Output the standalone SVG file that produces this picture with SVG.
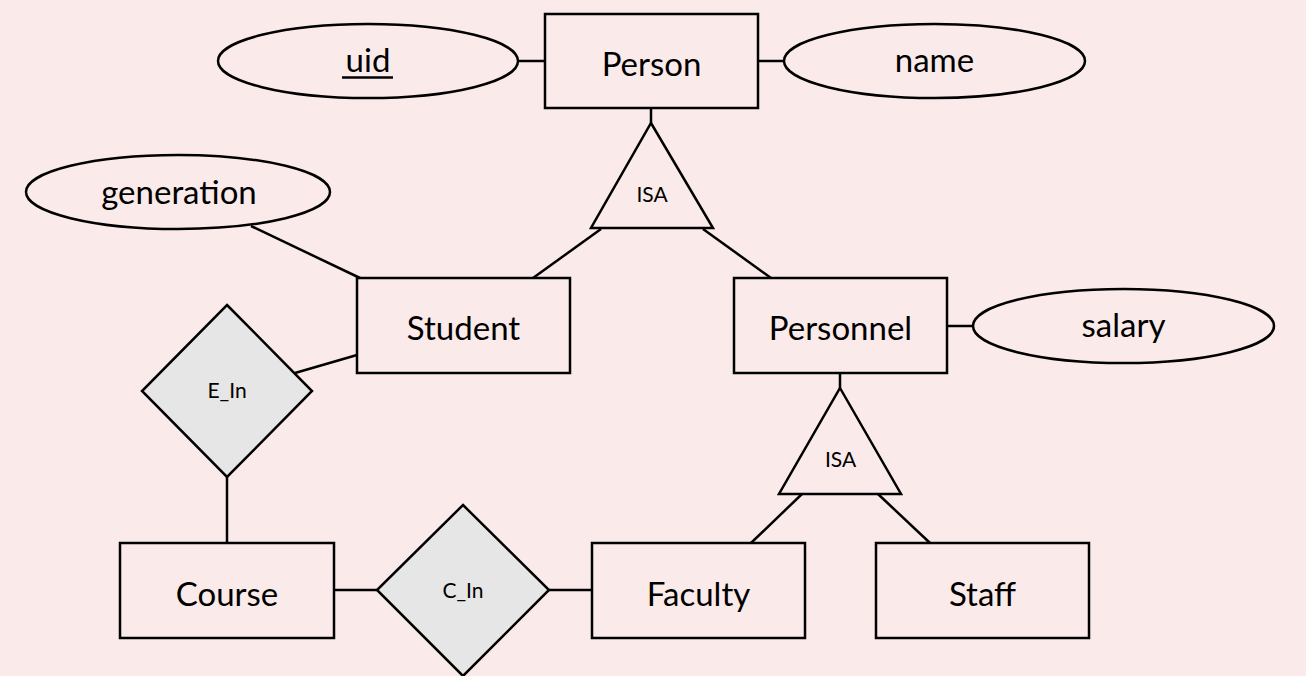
<svg xmlns="http://www.w3.org/2000/svg" width="1306" height="676" viewBox="0 0 1306 676">
<style>
.bg{fill:#fbeaea}
.ent{fill:none;stroke:#000;stroke-width:2.5}
.att{fill:none;stroke:#000;stroke-width:2.5}
.rel{fill:#e6e6e6;stroke:#000;stroke-width:2.5}
.isa{fill:none;stroke:#000;stroke-width:2.5}
.ln{stroke:#000;stroke-width:2.5;fill:none}
.t{font-family:Lato,"Open Sans","Liberation Sans",sans-serif;font-size:33px;text-anchor:middle;fill:#000}
.s{font-family:Lato,"Open Sans","Liberation Sans",sans-serif;font-size:21px;text-anchor:middle;fill:#000}
</style>
<rect class="bg" x="0" y="0" width="1306" height="676"/>
<g id="connectors">
<line class="ln" x1="518" y1="61" x2="545" y2="61"/>
<line class="ln" x1="758" y1="61" x2="784" y2="61"/>
<line class="ln" x1="651" y1="108" x2="651" y2="123"/>
<line class="ln" x1="601" y1="229" x2="533" y2="278"/>
<line class="ln" x1="703" y1="229" x2="771" y2="278"/>
<line class="ln" x1="251" y1="226" x2="360" y2="278"/>
<line class="ln" x1="947" y1="326" x2="973" y2="326"/>
<line class="ln" x1="357" y1="355" x2="295" y2="373"/>
<line class="ln" x1="227" y1="477" x2="227" y2="543"/>
<line class="ln" x1="334" y1="590" x2="377" y2="590"/>
<line class="ln" x1="549" y1="590" x2="592" y2="590"/>
<line class="ln" x1="840" y1="373" x2="840" y2="388"/>
<line class="ln" x1="802" y1="494" x2="751" y2="543"/>
<line class="ln" x1="878" y1="494" x2="930" y2="543"/>
</g>
<g id="person"><rect class="ent" x="545" y="14" width="213" height="94"/><text class="t" x="651.5" y="76">Person</text></g>
<g id="uid"><ellipse class="att" cx="368" cy="61" rx="150" ry="37"/><text class="t" x="368" y="72">uid</text><line class="ln" x1="342" y1="77.5" x2="393" y2="77.5" stroke-width="2"/></g>
<g id="name"><ellipse class="att" cx="934.5" cy="61" rx="150.5" ry="37"/><text class="t" x="934.5" y="72">name</text></g>
<g id="isa1"><polygon class="isa" points="651,123 713,228 591,228"/><text class="s" x="652" y="202">ISA</text></g>
<g id="generation"><ellipse class="att" cx="178" cy="192" rx="152" ry="37"/><text class="t" x="179" y="204">generation</text></g>
<g id="student"><rect class="ent" x="357" y="278" width="213" height="95"/><text class="t" x="463.5" y="340">Student</text></g>
<g id="personnel"><rect class="ent" x="734" y="278" width="213" height="95"/><text class="t" x="840.5" y="340">Personnel</text></g>
<g id="salary"><ellipse class="att" cx="1123.5" cy="326" rx="150.5" ry="37"/><text class="t" x="1123.5" y="337">salary</text></g>
<g id="e_in"><polygon class="rel" points="227,305 312,391 227,477 142,391"/><text class="s" x="227" y="398">E_In</text></g>
<g id="isa2"><polygon class="isa" points="840,388 901,494 779,494"/><text class="s" x="840.5" y="467">ISA</text></g>
<g id="course"><rect class="ent" x="120" y="543" width="214" height="95"/><text class="t" x="227" y="606">Course</text></g>
<g id="c_in"><polygon class="rel" points="463,505 549,590 463,676 377,590"/><text class="s" x="463" y="598">C_In</text></g>
<g id="faculty"><rect class="ent" x="592" y="543" width="213" height="95"/><text class="t" x="698.5" y="606">Faculty</text></g>
<g id="staff"><rect class="ent" x="876" y="543" width="213" height="95"/><text class="t" x="982.5" y="606">Staff</text></g>
</svg>
